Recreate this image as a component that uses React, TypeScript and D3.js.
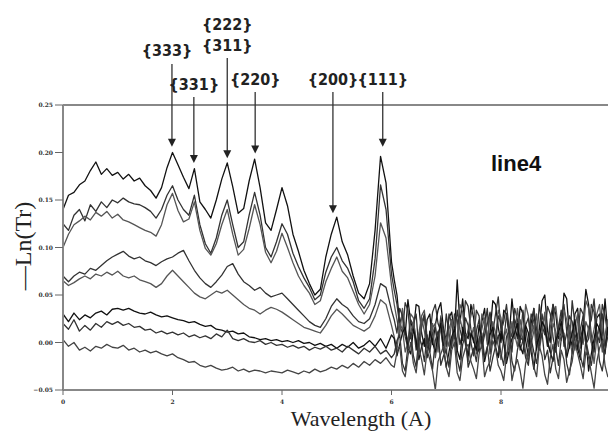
import React from "react";
import * as d3 from "d3";

// sampled every 0.1 A from 0 to 6, then every 0.05 A from 6.05 to 10
const headWavelengths = d3.range(0, 61).map((i) => i / 10);
const tailWavelengths = d3.range(1, 81).map((i) => 6 + i / 20);
const wavelengths = [...headWavelengths, ...tailWavelengths];

const lineAHead = [
  0.140, 0.155, 0.158, 0.166, 0.170, 0.181, 0.190, 0.177, 0.183, 0.176,
  0.179, 0.172, 0.177, 0.170, 0.173, 0.165, 0.160, 0.152, 0.163, 0.184,
  0.200, 0.187, 0.174, 0.162, 0.183, 0.148, 0.140, 0.131, 0.150, 0.172,
  0.189, 0.164, 0.136, 0.141, 0.170, 0.193, 0.163, 0.126, 0.118, 0.140,
  0.163, 0.144, 0.114, 0.096, 0.076, 0.062, 0.050, 0.056, 0.090, 0.114,
  0.132, 0.106, 0.092, 0.070, 0.052, 0.046, 0.062, 0.118, 0.196, 0.168,
  0.085,
];
const lineATail = [
  0.066, 0.050, 0.020, 0.030, 0.008, 0.045, 0.022, 0.012, 0.040, 0.038,
  0.010, -0.004, 0.024, 0.030, -0.002, 0.018, 0.034, 0.042, 0.014, 0.002,
  0.026, 0.032, 0.008, 0.066, 0.020, 0.046, 0.010, 0.004, 0.040, 0.026,
  0.000, -0.010, 0.022, 0.036, 0.002, 0.010, 0.044, 0.040, 0.016, 0.000,
  0.034, 0.030, 0.006, 0.046, 0.018, 0.004, 0.038, 0.030, 0.002, -0.014,
  0.020, 0.036, -0.004, 0.014, 0.044, 0.050, 0.012, 0.000, 0.040, 0.030,
  0.004, 0.010, 0.052, 0.046, 0.008, -0.004, 0.030, 0.036, 0.000, 0.020,
  0.056, 0.040, 0.006, -0.010, 0.026, 0.030, 0.002, 0.046, 0.010, 0.016,
];

const lineBHead = [
  0.125, 0.118, 0.134, 0.140, 0.128, 0.145, 0.138, 0.148, 0.142, 0.150,
  0.147, 0.152, 0.148, 0.146, 0.145, 0.142, 0.138, 0.131, 0.140, 0.155,
  0.165, 0.150, 0.140, 0.134, 0.155, 0.124, 0.104, 0.094, 0.110, 0.134,
  0.150, 0.124, 0.100, 0.106, 0.134, 0.158, 0.134, 0.100, 0.090, 0.106,
  0.125, 0.114, 0.094, 0.080, 0.068, 0.058, 0.045, 0.050, 0.074, 0.090,
  0.100, 0.086, 0.078, 0.064, 0.044, 0.036, 0.046, 0.088, 0.166, 0.140,
  0.072,
];
const lineBTail = [
  0.055, 0.040, 0.018, 0.010, 0.042, 0.034, 0.004, 0.020, 0.030, -0.008,
  0.016, 0.028, -0.002, 0.006, 0.032, 0.040, 0.020, 0.012, -0.006, 0.030,
  0.010, -0.006, 0.030, 0.024, -0.002, 0.010, 0.044, 0.038, 0.014, 0.000,
  0.034, 0.028, -0.004, 0.016, 0.036, -0.012, 0.010, 0.030, 0.048, 0.012,
  0.022, 0.040, 0.014, 0.006, 0.036, 0.024, 0.000, 0.034, 0.016, -0.004,
  0.030, 0.022, 0.002, 0.040, 0.018, 0.008, 0.038, 0.030, 0.006, -0.010,
  0.016, 0.026, 0.040, 0.012, -0.006, 0.044, 0.020, 0.004, 0.036, 0.030,
  -0.002, 0.016, 0.024, 0.046, 0.010, 0.000, 0.040, 0.028, 0.008, 0.036,
];

const lineCHead = [
  0.100, 0.114, 0.124, 0.128, 0.133, 0.129, 0.137, 0.133, 0.138, 0.131,
  0.135, 0.129, 0.127, 0.124, 0.121, 0.118, 0.116, 0.112, 0.124, 0.145,
  0.157, 0.139, 0.127, 0.130, 0.148, 0.118, 0.099, 0.092, 0.104, 0.124,
  0.140, 0.114, 0.092, 0.098, 0.120, 0.145, 0.124, 0.095, 0.084, 0.096,
  0.115, 0.100, 0.084, 0.070, 0.060, 0.052, 0.040, 0.044, 0.064, 0.078,
  0.090, 0.075, 0.068, 0.054, 0.040, 0.030, 0.040, 0.070, 0.126, 0.110,
  0.060,
];
const lineCTail = [
  0.040, 0.024, 0.008, 0.036, 0.014, 0.000, 0.030, 0.026, -0.004, 0.010,
  0.028, 0.034, 0.006, -0.004, 0.016, 0.020, -0.010, 0.028, 0.004, -0.012,
  0.014, 0.024, -0.004, 0.006, 0.040, 0.032, 0.000, 0.014, 0.028, 0.040,
  0.008, -0.006, 0.030, 0.022, -0.002, 0.030, 0.012, 0.004, 0.034, 0.026,
  0.000, -0.016, 0.012, 0.020, 0.004, 0.036, 0.014, 0.002, 0.040, 0.028,
  -0.002, 0.012, 0.030, -0.008, 0.010, 0.032, -0.004, 0.016, 0.026, 0.038,
  0.012, 0.002, 0.034, 0.024, 0.006, -0.012, 0.018, 0.030, -0.006, 0.010,
  0.044, 0.036, 0.000, 0.014, 0.030, 0.040, 0.006, -0.004, 0.022, 0.026,
];

const lineDHead = [
  0.070, 0.064, 0.070, 0.074, 0.072, 0.078, 0.076, 0.081, 0.086, 0.090,
  0.093, 0.096, 0.091, 0.088, 0.090, 0.086, 0.084, 0.081, 0.085, 0.088,
  0.090, 0.094, 0.097, 0.086, 0.076, 0.068, 0.062, 0.058, 0.064, 0.071,
  0.080, 0.083, 0.072, 0.064, 0.060, 0.055, 0.058, 0.052, 0.048, 0.050,
  0.052, 0.046, 0.040, 0.034, 0.028, 0.022, 0.018, 0.016, 0.025, 0.038,
  0.046, 0.040, 0.036, 0.028, 0.022, 0.020, 0.025, 0.040, 0.062, 0.058,
  0.034,
];
const lineDTail = [
  0.024, 0.010, 0.036, 0.028, 0.006, -0.006, 0.024, 0.018, -0.008, 0.004,
  0.020, 0.030, 0.002, -0.010, 0.010, 0.016, -0.004, 0.026, 0.012, -0.004,
  0.030, 0.020, 0.004, 0.034, 0.014, 0.002, 0.026, 0.018, 0.000, -0.014,
  0.012, 0.024, -0.006, 0.008, 0.020, 0.032, 0.012, -0.002, 0.028, 0.020,
  0.000, 0.030, 0.012, -0.010, 0.024, 0.016, -0.008, 0.002, 0.018, 0.026,
  0.004, 0.036, 0.014, -0.006, 0.030, 0.014, -0.004, 0.024, 0.040, 0.000,
  0.016, 0.034, -0.004, 0.010, 0.028, 0.022, 0.002, -0.008, 0.014, 0.028,
  -0.002, 0.004, 0.040, 0.032, 0.006, 0.018, 0.030, -0.006, 0.012, 0.020,
];

const lineEHead = [
  0.065, 0.060, 0.063, 0.067, 0.070, 0.067, 0.072, 0.070, 0.074, 0.071,
  0.075, 0.070, 0.068, 0.070, 0.066, 0.064, 0.062, 0.058, 0.062, 0.070,
  0.076, 0.070, 0.064, 0.058, 0.052, 0.048, 0.046, 0.050, 0.054, 0.052,
  0.055, 0.050, 0.045, 0.040, 0.036, 0.034, 0.030, 0.034, 0.037, 0.035,
  0.032, 0.028, 0.024, 0.020, 0.016, 0.014, 0.012, 0.010, 0.018, 0.028,
  0.035, 0.030, 0.024, 0.018, 0.015, 0.012, 0.016, 0.028, 0.045, 0.040,
  0.018,
];
const lineETail = [
  0.006, -0.008, 0.020, 0.014, -0.010, 0.000, 0.010, 0.022, 0.004, -0.012,
  0.026, 0.012, -0.006, 0.004, 0.020, -0.016, 0.002, 0.018, -0.010, 0.006,
  -0.004, 0.024, 0.010, -0.008, 0.026, 0.012, -0.002, -0.020, 0.004, 0.016,
  -0.012, 0.002, 0.014, 0.026, 0.008, -0.006, 0.022, 0.010, -0.004, -0.018,
  0.004, 0.014, -0.006, 0.022, 0.008, -0.004, 0.024, 0.010, -0.010, -0.020,
  0.008, 0.018, -0.008, 0.004, 0.016, 0.028, 0.002, -0.010, 0.020, 0.012,
  -0.004, 0.020, 0.006, -0.014, 0.018, 0.006, -0.008, 0.026, 0.010, -0.002,
  0.022, 0.014, 0.000, -0.022, 0.004, 0.016, -0.010, 0.008, 0.024, -0.004,
];

const lineFHead = [
  0.030, 0.022, 0.031, 0.024, 0.029, 0.026, 0.031, 0.033, 0.029, 0.035,
  0.036, 0.034, 0.036, 0.033, 0.031, 0.030, 0.032, 0.029, 0.027, 0.028,
  0.026, 0.024, 0.023, 0.021, 0.022, 0.019, 0.017, 0.018, 0.014, 0.013,
  0.011, 0.012, 0.009, 0.010, 0.006, 0.005, 0.003, 0.004, 0.002, 0.003,
  0.001, 0.002, 0.000, 0.002, -0.001, 0.000, -0.003, -0.001, -0.004, -0.002,
  -0.006, -0.002, -0.005, 0.000, -0.006, -0.003, 0.002, -0.004, 0.004, -0.006,
  0.008,
];
const lineFTail = [
  0.004, -0.014, -0.002, 0.010, 0.016, -0.006, -0.012, 0.014, 0.002, -0.018,
  -0.004, 0.004, -0.016, 0.012, 0.000, -0.010, 0.008, 0.020, -0.006, -0.026,
  -0.010, 0.006, 0.014, -0.008, -0.018, 0.016, 0.002, -0.014, 0.010, 0.002,
  -0.008, 0.018, 0.004, -0.020, -0.006, 0.008, 0.016, -0.004, -0.016, 0.012,
  0.000, -0.022, -0.008, 0.004, 0.010, 0.020, -0.004, -0.012, 0.018, 0.010,
  -0.010, -0.028, -0.004, 0.006, 0.022, 0.016, 0.000, -0.010, -0.020, 0.002,
  0.010, 0.022, 0.004, -0.016, -0.004, 0.010, 0.024, -0.006, -0.018, 0.018,
  0.006, -0.030, -0.012, 0.004, 0.020, 0.014, 0.000, -0.012, 0.016, 0.008,
];

const lineGHead = [
  0.020, 0.014, 0.024, 0.012, 0.018, 0.013, 0.020, 0.016, 0.022, 0.019,
  0.022, 0.018, 0.020, 0.016, 0.017, 0.013, 0.014, 0.010, 0.012, 0.009,
  0.011, 0.008, 0.010, 0.006, 0.008, 0.005, 0.007, 0.004, 0.009, 0.006,
  0.013, 0.004, 0.002, 0.004, 0.001, 0.000, 0.002, -0.002, 0.000, -0.003,
  -0.002, -0.005, -0.003, -0.006, -0.004, -0.008, -0.005, -0.007, -0.004, -0.008,
  -0.006, -0.010, -0.004, -0.008, -0.012, -0.006, -0.010, -0.004, -0.012, -0.008,
  -0.016,
];
const lineGTail = [
  -0.012, 0.002, 0.008, -0.022, -0.030, -0.004, 0.010, -0.014, -0.026, 0.006,
  -0.002, -0.020, 0.008, -0.010, -0.028, 0.002, 0.012, -0.024, -0.014, -0.008,
  -0.026, 0.004, 0.010, -0.018, -0.030, -0.002, 0.008, -0.026, -0.016, -0.006,
  -0.020, 0.004, 0.010, -0.016, -0.004, -0.030, -0.016, -0.004, 0.008, -0.012,
  -0.024, 0.006, 0.012, -0.020, -0.030, -0.008, 0.006, 0.002, -0.016, -0.024,
  0.004, -0.010, -0.022, 0.000, 0.010, -0.018, -0.008, -0.032, -0.016, -0.006,
  -0.024, 0.004, 0.010, -0.022, -0.034, -0.010, 0.008, 0.002, -0.014, -0.026,
  0.002, -0.012, -0.024, -0.002, 0.010, -0.020, -0.030, -0.008, 0.006, 0.004,
];

const lineHHead = [
  0.003, -0.004, 0.000, -0.008, -0.005, -0.009, -0.004, -0.006, -0.002, -0.005,
  -0.006, -0.003, -0.008, -0.006, -0.010, -0.008, -0.011, -0.009, -0.012, -0.014,
  -0.012, -0.016, -0.018, -0.021, -0.020, -0.024, -0.026, -0.024, -0.027, -0.029,
  -0.028, -0.026, -0.030, -0.028, -0.031, -0.029, -0.030, -0.032, -0.030, -0.031,
  -0.032, -0.029, -0.031, -0.033, -0.030, -0.032, -0.028, -0.031, -0.029, -0.026,
  -0.028, -0.024, -0.027, -0.022, -0.026, -0.020, -0.024, -0.018, -0.022, -0.016,
  -0.024,
];
const lineHTail = [
  -0.026, -0.010, -0.004, -0.030, -0.036, -0.014, 0.000, -0.022, -0.032, -0.006,
  -0.018, -0.034, -0.008, -0.018, -0.030, -0.050, -0.020, -0.012, -0.004, -0.026,
  -0.036, -0.008, 0.000, -0.032, -0.040, -0.016, -0.006, -0.002, -0.020, -0.028,
  -0.038, -0.012, -0.002, -0.036, -0.026, -0.020, 0.002, -0.006, -0.024, -0.030,
  -0.040, -0.014, -0.004, -0.040, -0.026, -0.018, -0.030, -0.048, -0.022, -0.010,
  0.000, -0.026, -0.036, -0.004, -0.014, -0.034, -0.044, -0.016, -0.002, -0.028,
  -0.038, -0.008, -0.018, -0.042, -0.030, -0.020, 0.000, -0.012, -0.024, -0.038,
  -0.010, -0.016, -0.032, -0.048, -0.020, -0.006, 0.002, -0.024, -0.036, -0.030,
];

const series = [
  [...lineAHead, ...lineATail],
  [...lineBHead, ...lineBTail],
  [...lineCHead, ...lineCTail],
  [...lineDHead, ...lineDTail],
  [...lineEHead, ...lineETail],
  [...lineFHead, ...lineFTail],
  [...lineGHead, ...lineGTail],
  [...lineHHead, ...lineHTail],
];
const seriesColors = ["#111", "#333", "#555", "#333", "#555", "#111", "#333", "#444"];

const yTicks = [0.25, 0.2, 0.15, 0.1, 0.05, 0, -0.05];
const xTicks = [0, 2, 4, 6, 8, 10];
const xTickLabels = ["0", "2", "4", "6", "8", ""];

// peak annotations
const peakLabels = [["{333}"], ["{331}"], ["{222}", "{311}"], ["{220}"], ["{200}"], ["{111}"]];
const peakWavelengths = [1.99, 2.39, 3.0, 3.51, 4.93, 5.84];
const peakTips = [0.206, 0.189, 0.194, 0.199, 0.136, 0.206];

export default function App() {
  const width = 608, height = 432;
  const margin = {left: 63, top: 105, bottom: 42};

  const x = d3.scaleLinear().domain([0, 10]).range([margin.left, 610.5]);
  const y = d3.scaleLinear().domain([-0.05, 0.25]).range([height - margin.bottom, margin.top]);

  const line = d3.line<number>()
    .x((d, i) => x(wavelengths[i]))
    .y(d => y(d));

  // label baseline, horizontal nudge and arrow start, per annotation
  const labelBase = [56, 90, 51, 85, 85, 85];
  const labelShift = [-5, 0, 0, 0, 0, 0];
  const arrowStart = [64, 97, 58, 92, 92, 92];

  return (
    <svg width={width} height={height} style={{position: "absolute", left: 0, top: 0, background: "#fff"}}>
      <g>
        {series.map((s, k) => (
          <path key={k} d={line(s) || ""} fill="none" stroke={seriesColors[k]}
                strokeWidth={1.3} strokeLinejoin="round"/>
        ))}
      </g>

      {/* frame */}
      <g stroke="#888" strokeWidth={2} fill="none">
        <line x1={margin.left} x2={width} y1={y(0.25)} y2={y(0.25)}/>
        <line x1={margin.left} x2={width} y1={y(-0.05)} y2={y(-0.05)}/>
        <line x1={margin.left} x2={margin.left} y1={y(0.25)} y2={y(-0.05)}/>
      </g>

      <g fontFamily="'DejaVu Serif', serif" fontSize={6} fontWeight="bold" fill="#333">
        {yTicks.map(t => (
          <g key={t}>
            <line x1={margin.left - 8} x2={margin.left} y1={y(t)} y2={y(t)} stroke="#666" strokeWidth={1}/>
            <text x={margin.left - 10} y={y(t) + 2} textAnchor="end">{d3.format(".2f")(t)}</text>
          </g>
        ))}
        {xTicks.map((t, i) => (
          <g key={t}>
            <line x1={x(t)} x2={x(t)} y1={y(-0.05)} y2={y(-0.05) + 5} stroke="#666" strokeWidth={1}/>
            <text x={x(t)} y={y(-0.05) + 14} textAnchor="middle">{xTickLabels[i]}</text>
          </g>
        ))}
      </g>

      <text x={361} y={426} textAnchor="middle" fontFamily="'Liberation Serif', serif" fontSize={22} fill="#222">
        Wavelength (A)
      </text>
      <text transform={`translate(31, 246) rotate(-90)`} textAnchor="middle"
            fontFamily="'Liberation Serif', serif" fontSize={24} fill="#222">
        —Ln(Tr)
      </text>

      <text x={491} y={171} fontFamily="'Liberation Sans', sans-serif" fontWeight="bold" fontSize={22} fill="#111">
        line4
      </text>

      <g>
        {peakLabels.map((lab, k) => {
          const px = x(peakWavelengths[k]);
          const tip = y(peakTips[k]);
          return (
            <g key={k}>
              <line x1={px} x2={px} y1={arrowStart[k]} y2={tip - 7} stroke="#333" strokeWidth={1.3}/>
              <path d={`M${px - 4},${tip - 8} L${px + 4},${tip - 8} L${px},${tip} Z`} fill="#222"/>
              {lab.map((l, j) => (
                <text key={j} x={px + labelShift[k]} y={labelBase[k] - (lab.length - 1 - j) * 21}
                      textAnchor="middle"
                      fontFamily="'DejaVu Sans Condensed', 'Liberation Sans', sans-serif" fontWeight="bold"
                      fontSize={16} fill="#222">{l}</text>
              ))}
            </g>
          );
        })}
      </g>
    </svg>
  );
}
